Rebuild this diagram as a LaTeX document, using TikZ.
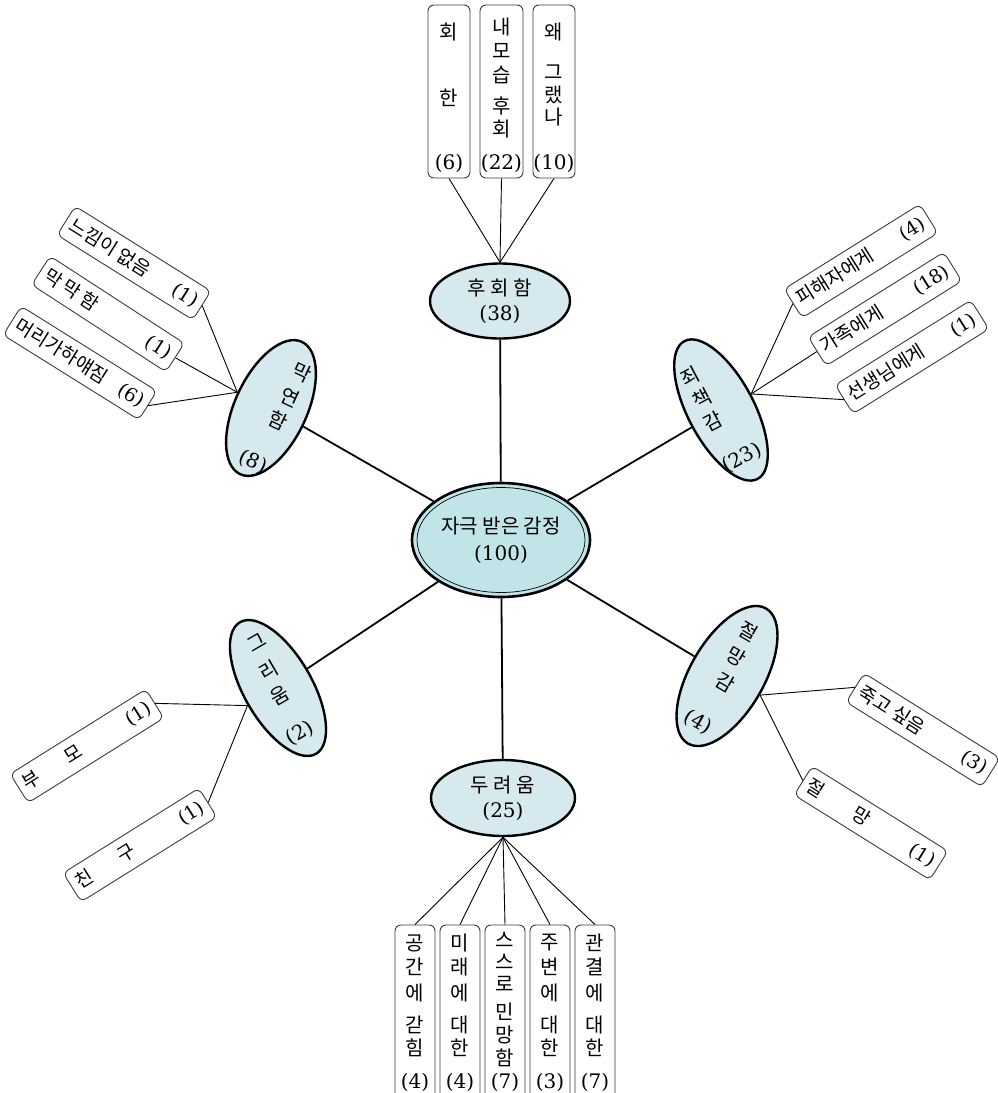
\documentclass[tikz,border=0pt]{standalone}
\usepackage{fontspec}
\setmainfont{DejaVu Serif}
\newfontfamily\kr{Noto Sans CJK KR}
\usetikzlibrary{shapes.geometric}
\pgfdeclarelayer{bg}
\pgfsetlayers{bg,main}
\definecolor{cfill}{RGB}{193,228,233}
\definecolor{efill}{RGB}{213,233,239}
\definecolor{boxline}{RGB}{60,60,60}
\newcommand\fsz{\fontsize{20}{22}\selectfont}
\newcommand\fsb{\fontsize{19}{21}\selectfont}
\newcommand\K[1]{{\kr #1}}
\tikzset{
  kbox/.style={draw=boxline, line width=0.9pt, rounded corners=6pt, fill=white, inner sep=0pt, font=\fsz},
  rbox/.style={kbox, minimum width=160, minimum height=34, font=\fsb},
  bell/.style={ellipse, draw=black, line width=2.4pt, fill=efill, inner sep=0pt, font=\fsz},
  lab/.style={inner sep=0pt, font=\fsz},
  conn/.style={draw=black, line width=0.9pt},
  mainconn/.style={draw=black, line width=1.8pt}
}
\begin{document}
\begin{tikzpicture}[x=1pt,y=-1pt]
\useasboundingbox (0,0) rectangle (998,1093);
\clip (0,0) rectangle (998,1093);

% centre
\node[ellipse, draw=black, line width=2.6pt, fill=cfill, minimum width=178, minimum height=114, align=center, font=\fsz, inner sep=0pt] (c) at (501,540) {\K{자극 받은 감정}\\[5pt](100)};
\node[ellipse, draw=black, line width=0.7pt, minimum width=168, minimum height=105] (cin) at (501,540) {};

% main branches
\node[bell, minimum width=140, minimum height=75, align=center] (hu) at (500,301) {\K{후 회 함}\\[3pt](38)};
\node[bell, minimum width=144, minimum height=76, align=center] (du) at (503,798) {\K{두 려 움}\\[3pt](25)};
\node[bell, minimum width=72, minimum height=146, rotate=-25] (mak) at (271,408) {};
\node[bell, minimum width=66, minimum height=156, rotate=28] (joe) at (721,410) {};
\node[bell, minimum width=68, minimum height=152, rotate=30] (gri) at (278,688) {};
\node[bell, minimum width=74, minimum height=156, rotate=-30] (jeo) at (727,676) {};

% labels in tilted ellipses
\foreach \n/\x/\y/\t in {1/302/373/\K{막}, 2/290/397/\K{연}, 3/278/420/\K{함}, 4/253/462/(8)}
  {\node[lab, rotate=-25] (mk\n) at (\x,\y) {\t};}
\foreach \n/\x/\y/\t in {1/690/377/\K{죄}, 2/702/399/\K{책}, 3/713/421/\K{감}, 4/742/458/(23)}
  {\node[lab, rotate=28] (jc\n) at (\x,\y) {\t};}
\foreach \n/\x/\y/\t in {1/257/643/\K{그}, 2/269/670/\K{리}, 3/280/695/\K{움}, 4/300/733/(2)}
  {\node[lab, rotate=30] (gr\n) at (\x,\y) {\t};}
\foreach \n/\x/\y/\t in {1/748/632/\K{절}, 2/736/657/\K{망}, 3/725/682/\K{감}, 4/698/722/(4)}
  {\node[lab, rotate=-30] (jm\n) at (\x,\y) {\t};}

% top boxes
\node[kbox, minimum width=42, minimum height=173] (tb1) at (449,91.5) {};
\node[kbox, minimum width=43, minimum height=173] (tb2) at (501.5,91.5) {};
\node[kbox, minimum width=42, minimum height=173] (tb3) at (554,91.5) {};
\foreach \n/\x/\y/\t in {a1/449/32/\K{회}, a2/449/98/\K{한}, a3/449/163/(6),
  b1/501.5/27/\K{내}, b2/501.5/51/\K{모}, b3/501.5/75/\K{습}, b4/501.5/106/\K{후}, b5/501.5/129/\K{회}, b6/501.5/163/(22),
  c1/554/32/\K{왜}, c2/554/72/\K{그}, c3/554/95/\K{랬}, c4/554/117/\K{나}, c5/554/163/(10)}
  {\node[lab] (tx\n) at (\x,\y) {\t};}

% bottom boxes
\foreach \n/\x in {1/415, 2/460, 3/505, 4/550, 5/595}
  {\node[kbox, minimum width=40, minimum height=200] (bb\n) at (\x,1025) {};}
\foreach \n/\x/\y/\t in {a1/415/943/\K{공}, a2/415/967/\K{간}, a3/415/993/\K{에}, a4/415/1025/\K{갇}, a5/415/1048/\K{힘}, a6/415/1082/(4),
  b1/460/943/\K{미}, b2/460/967/\K{래}, b3/460/993/\K{에}, b4/460/1025/\K{대}, b5/460/1048/\K{한}, b6/460/1082/(4),
  c1/505/940/\K{스}, c2/505/962/\K{스}, c3/505/984/\K{로}, c4/505/1012/\K{민}, c5/505/1035/\K{망}, c6/505/1058/\K{함}, c7/505/1082/(7),
  d1/550/943/\K{주}, d2/550/967/\K{변}, d3/550/993/\K{에}, d4/550/1025/\K{대}, d5/550/1048/\K{한}, d6/550/1082/(3),
  e1/595/943/\K{관}, e2/595/967/\K{결}, e3/595/993/\K{에}, e4/595/1025/\K{대}, e5/595/1048/\K{한}, e6/595/1082/(7)}
  {\node[lab] (u\n) at (\x,\y) {\t};}

% tilted boxes
\node[rbox, rotate=-32] (bA) at (134,263) {\makebox[148pt]{\K{느낌이 없음}\hfill(1)}};
\node[rbox, rotate=-33] (bB) at (108,314) {\makebox[148pt]{\K{막 막 함}\hfill(1)}};
\node[rbox, rotate=-32] (bC) at (80,363) {\makebox[148pt]{\K{머리가하얘짐}\hfill(6)}};
\node[rbox, rotate=32] (bD) at (861,261) {\makebox[148pt]{\K{피해자에게}\hfill(4)}};
\node[rbox, rotate=32] (bE) at (885,309) {\makebox[148pt]{\K{가족에게}\hfill(18)}};
\node[rbox, rotate=32] (bF) at (912,357) {\makebox[148pt]{\K{선생님에게}\hfill(1)}};
\node[rbox, rotate=32] (bG) at (87,746) {\makebox[148pt]{\K{부}\hspace{32pt}\K{모}\hfill(1)}};
\node[rbox, rotate=32] (bH) at (140,845) {\makebox[148pt]{\K{친}\hspace{32pt}\K{구}\hfill(1)}};
\node[rbox, rotate=-32] (bI) at (923,730) {\makebox[148pt]{\K{죽고 싶음}\hfill(3)}};
\node[rbox, rotate=-32] (bJ) at (871,823) {\makebox[148pt]{\K{절}\hspace{36pt}\K{망}\hfill(1)}};

% connectors
\begin{pgfonlayer}{bg}
  \draw[mainconn] (c) -- (hu);
  \draw[mainconn] (c) -- (du);
  \draw[mainconn] (c) -- (mak);
  \draw[mainconn] (c) -- (joe);
  \draw[mainconn] (c) -- (gri);
  \draw[mainconn] (c) -- (jeo);
  \foreach \n in {1,2,3} {\draw[conn] (tb\n.south) -- (hu.north);}
  \foreach \n in {1,...,5} {\draw[conn] (bb\n.north) -- (du.south);}
  \foreach \n in {A,B,C} {\draw[conn] (b\n.east) -- (mak.west);}
  \foreach \n in {D,E,F} {\draw[conn] (b\n.west) -- (joe.east);}
  \foreach \n in {G,H} {\draw[conn] (b\n.east) -- (gri.west);}
  \foreach \n in {I,J} {\draw[conn] (b\n.west) -- (jeo.east);}
\end{pgfonlayer}
\end{tikzpicture}
\end{document}
